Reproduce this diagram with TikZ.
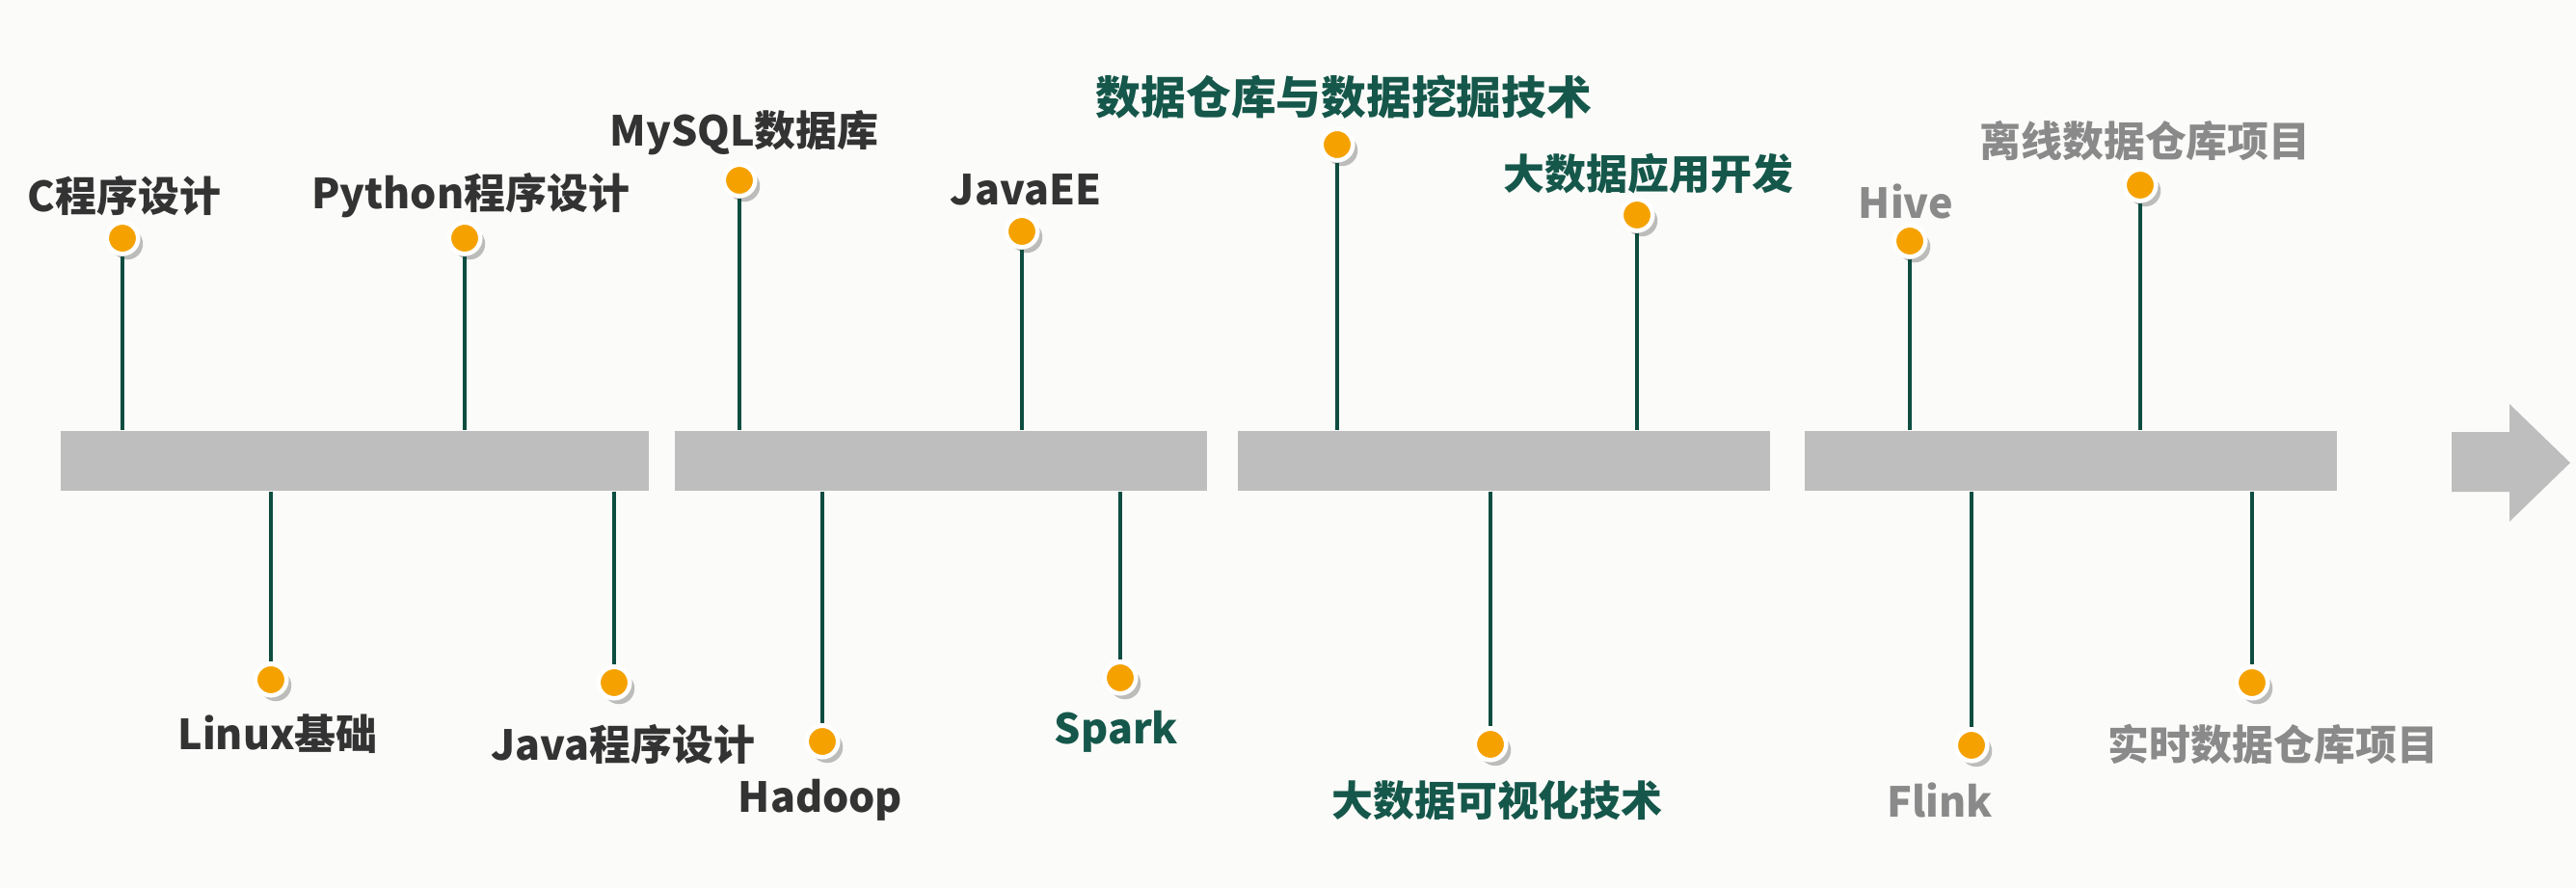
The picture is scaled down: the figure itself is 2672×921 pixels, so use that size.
\documentclass[tikz,border=0pt]{standalone}
\usepackage{fontspec}
\setmainfont{Noto Sans CJK SC}
\usepackage{tikz}
\usetikzlibrary{positioning,shadows}
\usepackage{xcolor}
\definecolor{bgcolor}{RGB}{251,251,249}
\definecolor{barcolor}{RGB}{190,190,190}
\definecolor{stemcolor}{RGB}{14,77,64}
\definecolor{dotcolor}{RGB}{245,162,0}
\definecolor{darktext}{RGB}{51,51,51}
\definecolor{greentext}{RGB}{21,87,74}
\definecolor{graytext}{RGB}{138,138,138}

\begin{document}
\begin{tikzpicture}[
    x=0.01cm, y=-0.01cm,
    barbox/.style={rectangle, fill=barcolor, minimum height=0.62cm, inner sep=0pt},
    dotnode/.style={circle, fill=dotcolor, draw=white, line width=1.3pt, minimum size=0.325cm, inner sep=0pt,
        drop shadow={shadow xshift=0.05cm, shadow yshift=-0.06cm, opacity=0.25, fill=black}},
    stemline/.style={draw=stemcolor, line width=0.9pt},
    tagtext/.style={font=\bfseries\fontsize{12.2}{14}\selectfont, inner sep=0pt}
]
    \useasboundingbox[fill=bgcolor] (0,0) rectangle (2672,921);

    % Bars
    \node[barbox, minimum width=6.1cm] (bar1) at (368,478) {};
    \node[barbox, minimum width=5.52cm] (bar2) at (976,478) {};
    \node[barbox, minimum width=5.51cm] (bar3) at (1560,478) {};
    \node[barbox, minimum width=5.51cm] (bar4) at (2148,478) {};

    % Arrow
    \fill[barcolor] (2543,448) -- (2603,448) -- (2603,419) -- (2666,480)
        -- (2603,541) -- (2603,510) -- (2543,510) -- cycle;

    % Stage 1
    \node[dotnode] (cprog) at (127,247) {};
    \node[dotnode] (python) at (482,247) {};
    \node[dotnode] (linux) at (281,705) {};
    \node[dotnode] (javaprog) at (637,708) {};
    \draw[stemline] (cprog.south) -- (cprog |- bar1.north);
    \draw[stemline] (python.south) -- (python |- bar1.north);
    \draw[stemline] (bar1.south -| linux) -- (linux.north);
    \draw[stemline] (bar1.south -| javaprog) -- (javaprog.north);
    \node[tagtext, text=darktext] (cprogtext) at (129,203) {C程序设计};
    \node[tagtext, text=darktext] (pythontext) at (488,203) {Python程序设计};
    \node[tagtext, text=darktext] (linuxtext) at (288,761) {Linux基础};
    \node[tagtext, text=darktext] (javaprogtext) at (646,772) {Java程序设计};

    % Stage 2
    \node[dotnode] (mysql) at (767,187) {};
    \node[dotnode] (javaee) at (1060,240) {};
    \node[dotnode] (hadoop) at (853,769) {};
    \node[dotnode] (spark) at (1162,703) {};
    \draw[stemline] (mysql.south) -- (mysql |- bar2.north);
    \draw[stemline] (javaee.south) -- (javaee |- bar2.north);
    \draw[stemline] (bar2.south -| hadoop) -- (hadoop.north);
    \draw[stemline] (bar2.south -| spark) -- (spark.north);
    \node[tagtext, text=darktext] (mysqltext) at (772,138) {MySQL数据库};
    \node[tagtext, text=darktext] (javaeetext) at (1064,197) {JavaEE};
    \node[tagtext, text=darktext] (hadooptext) at (851,830) {Hadoop};
    \node[tagtext, text=greentext] (sparktext) at (1158,759) {Spark};

    % Stage 3
    \node[dotnode] (mining) at (1387,150) {};
    \node[dotnode] (bigapp) at (1698,223) {};
    \node[dotnode] (visual) at (1546,772) {};
    \draw[stemline] (mining.south) -- (mining |- bar3.north);
    \draw[stemline] (bigapp.south) -- (bigapp |- bar3.north);
    \draw[stemline] (bar3.south -| visual) -- (visual.north);
    \node[tagtext, text=greentext, font=\bfseries\fontsize{13.3}{15}\selectfont] (miningtext) at (1394,101) {数据仓库与数据挖掘技术};
    \node[tagtext, text=greentext] (bigapptext) at (1710,180) {大数据应用开发};
    \node[tagtext, text=greentext] (visualtext) at (1553,830) {大数据可视化技术};

    % Stage 4
    \node[dotnode] (hive) at (1981,250) {};
    \node[dotnode] (offline) at (2220,192) {};
    \node[dotnode] (flink) at (2045,773) {};
    \node[dotnode] (realtime) at (2336,708) {};
    \draw[stemline] (hive.south) -- (hive |- bar4.north);
    \draw[stemline] (offline.south) -- (offline |- bar4.north);
    \draw[stemline] (bar4.south -| flink) -- (flink.north);
    \draw[stemline] (bar4.south -| realtime) -- (realtime.north);
    \node[tagtext, text=graytext] (hivetext) at (1977,209) {Hive};
    \node[tagtext, text=graytext] (offlinetext) at (2225,146) {离线数据仓库项目};
    \node[tagtext, text=graytext] (flinktext) at (2012,830) {Flink};
    \node[tagtext, text=graytext] (realtimetext) at (2358,772) {实时数据仓库项目};
\end{tikzpicture}
\end{document}
